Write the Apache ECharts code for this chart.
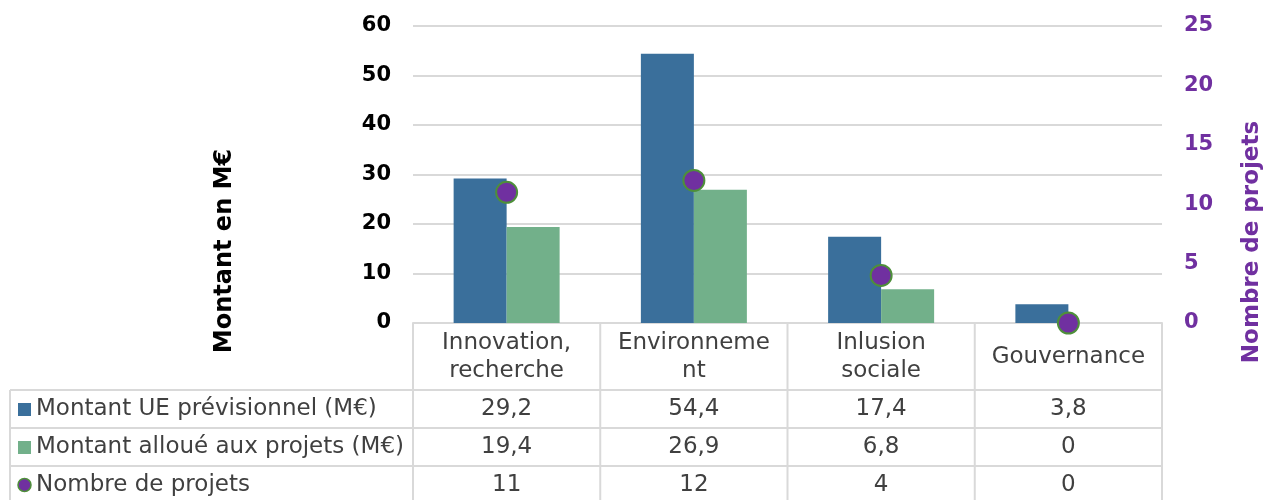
<!DOCTYPE html>
<html>
<head>
<meta charset="utf-8">
<script src="https://cdn.jsdelivr.net/npm/echarts@6/dist/echarts.min.js"></script>
<style>
  html, body { margin: 0; padding: 0; background: #fff; }
  #chart { width: 1268px; height: 500px; }
</style>
</head>
<body>
<div id="chart"></div>
<script>
// données du graphique
const categories = ['Innovation,\nrecherche', 'Environneme\nnt', 'Inlusion\nsociale', 'Gouvernance'];
const montantUE = [29.2, 54.4, 17.4, 3.8];
const montantAlloue = [19.4, 26.9, 6.8, 0];
const nbProjets = [11, 12, 4, 0];
const seriesNames = ['Montant UE prévisionnel (M€)', 'Montant alloué aux projets (M€)', 'Nombre de projets'];

const BLUE = '#3A6F9B';
const GREEN = '#72B08A';
const PURPLE = '#7030A0';
const GRID = '#D9D9D9';
const TXT = '#404040';
const FONT = 'DejaVu Sans';
const FS = 23;

const chart = echarts.init(document.getElementById('chart'), null, { renderer: 'canvas' });

const fmt = v => String(v).replace('.', ',');

const option = {
  animation: false,
  textStyle: { fontFamily: FONT },
  grid: { left: 413, right: 106, top: 26, bottom: 177 },
  xAxis: [{
    type: 'category',
    data: categories,
    axisLine: { lineStyle: { color: GRID, width: 2 } },
    axisTick: { show: false },
    axisLabel: {
      color: TXT, fontSize: FS, lineHeight: 28, fontFamily: FONT,
      verticalAlign: 'middle', margin: 34, interval: 0
    }
  }],
  yAxis: [{
    type: 'value', min: 0, max: 60, interval: 10,
    axisLabel: { color: '#000', fontWeight: 'bold', fontSize: 21, margin: 22, fontFamily: FONT },
    splitLine: { lineStyle: { color: GRID, width: 2 } }
  }, {
    type: 'value', min: 0, max: 25, interval: 5,
    axisLabel: { color: PURPLE, fontWeight: 'bold', fontSize: 21, margin: 22, fontFamily: FONT },
    splitLine: { show: false }
  }],
  series: [{
    name: seriesNames[0], type: 'bar', data: montantUE, barWidth: 53, barGap: '0%',
    itemStyle: { color: BLUE }
  }, {
    name: seriesNames[1], type: 'bar', data: montantAlloue, barWidth: 53,
    itemStyle: { color: GREEN }
  }, {
    name: seriesNames[2], type: 'scatter', yAxisIndex: 1, data: nbProjets, symbolSize: 21,
    itemStyle: { color: PURPLE, borderColor: '#4E8F3A', borderWidth: 2, opacity: 1 }, z: 5
  }]
};
chart.setOption(option);

// tableau de données sous le graphique
const rowsY = [409, 447, 485];
const rowLines = [390, 428, 466];
const tableLeft = 10, tableRight = 1162, axisY = 323;
const rows = [montantUE, montantAlloue, nbProjets];
const gfx = [];

const colX = categories.map((c, i) => chart.convertToPixel({ xAxisIndex: 0 }, i));
const half = (colX[1] - colX[0]) / 2;
const bounds = [colX[0] - half].concat(colX.map(x => x + half));

bounds.forEach(x => {
  gfx.push({ type: 'line', shape: { x1: x, y1: axisY, x2: x, y2: 500 }, style: { stroke: GRID, lineWidth: 2 } });
});
gfx.push({ type: 'line', shape: { x1: tableLeft, y1: rowLines[0], x2: tableLeft, y2: 500 }, style: { stroke: GRID, lineWidth: 2 } });
rowLines.forEach(y => {
  gfx.push({ type: 'line', shape: { x1: tableLeft, y1: y, x2: tableRight, y2: y }, style: { stroke: GRID, lineWidth: 2 } });
});

rows.forEach((vals, r) => {
  vals.forEach((v, i) => {
    gfx.push({ type: 'text', x: colX[i], y: rowsY[r], style: {
      text: fmt(v), fill: TXT, fontSize: FS, fontFamily: FONT, align: 'center', verticalAlign: 'middle' } });
  });
  gfx.push({ type: 'text', x: 36, y: rowsY[r], style: {
    text: seriesNames[r], fill: TXT, fontSize: FS, fontFamily: FONT, align: 'left', verticalAlign: 'middle' } });
});
// clés de légende
gfx.push({ type: 'rect', shape: { x: 18, y: rowsY[0] - 6, width: 13, height: 13 }, style: { fill: BLUE } });
gfx.push({ type: 'rect', shape: { x: 18, y: rowsY[1] - 6, width: 13, height: 13 }, style: { fill: GREEN } });
gfx.push({ type: 'circle', shape: { cx: 24.5, cy: rowsY[2], r: 6.5 }, style: { fill: PURPLE, stroke: '#4E8F3A', lineWidth: 1.5 } });

// titres des axes
gfx.push({ type: 'text', x: 225, y: 251, rotation: Math.PI / 2, style: {
  text: 'Montant en M€', fill: '#000', fontWeight: 'bold', fontSize: 24, fontFamily: FONT, align: 'center', verticalAlign: 'middle' } });
gfx.push({ type: 'text', x: 1252, y: 242, rotation: Math.PI / 2, style: {
  text: 'Nombre de projets', fill: PURPLE, fontWeight: 'bold', fontSize: 23, fontFamily: FONT, align: 'center', verticalAlign: 'middle' } });

chart.setOption({ graphic: gfx });
</script>
</body>
</html>
